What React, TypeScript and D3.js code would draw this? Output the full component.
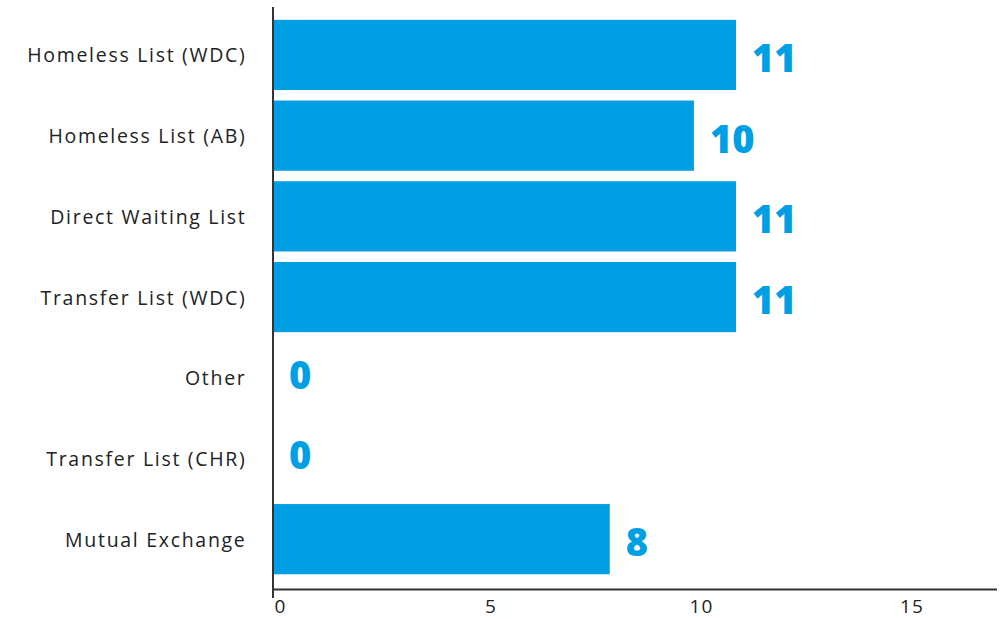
import React from "react";
import * as d3 from "d3";

const categories = [
  "Homeless List (WDC)",
  "Homeless List (AB)",
  "Direct Waiting List",
  "Transfer List (WDC)",
  "Other",
  "Transfer List (CHR)",
  "Mutual Exchange",
];
const values = [11, 10, 11, 11, 0, 0, 8];
const xTicks = [0, 5, 10, 15];

const W = 1005;
const H = 619;
const BLUE = "#009FE3";
const AXIS = "#333333";
const LABEL_FONT = "'Open Sans', sans-serif";

export default function App() {
  const x = d3.scaleLinear().domain([0, 17.2]).range([273, 997]);
  const y = d3
    .scaleBand<string>()
    .domain(categories)
    .range([14.6, 579.5])
    .paddingInner(0.13)
    .paddingOuter(0.065);
  const axisY = 589.5;

  return (
    <svg
      width={W}
      height={H}
      style={{ position: "absolute", left: 0, top: 0, background: "#fff" }}
    >
      {categories.map((c, i) => {
        const yy = y(c)!;
        const bw = y.bandwidth();
        const v = values[i];
        return (
          <g key={c}>
            {v > 0 && (
              <rect
                x={x(0) + 1}
                y={yy}
                width={x(v) - x(0) - 1}
                height={bw}
                fill={BLUE}
              />
            )}
            <text
              x={246.5}
              y={yy + bw / 2}
              textAnchor="end"
              dominantBaseline="central"
              fontFamily={LABEL_FONT}
              fontSize={19.5}
              letterSpacing={1.7}
              fill="#222"
            >
              {c}
            </text>
            <text
              x={x(v) + 16}
              y={yy + bw / 2 + (v === 0 ? -4 : 2)}
              textAnchor="start"
              dominantBaseline="central"
              fontFamily="'Open Sans', sans-serif"
              fontWeight={800}
              fontSize={38}
              fill={BLUE}
            >
              {v}
            </text>
          </g>
        );
      })}
      <line x1={273} x2={997} y1={axisY} y2={axisY} stroke={AXIS} strokeWidth={2} />
      <line x1={273} x2={273} y1={7} y2={598} stroke={AXIS} strokeWidth={2} />
      {xTicks.map((t) => (
        <text
          key={t}
          x={x(t) + 7.5}
          y={613}
          textAnchor="middle"
          fontFamily={LABEL_FONT}
          fontSize={19}
          letterSpacing={1}
          fill="#222"
        >
          {t}
        </text>
      ))}
    </svg>
  );
}
